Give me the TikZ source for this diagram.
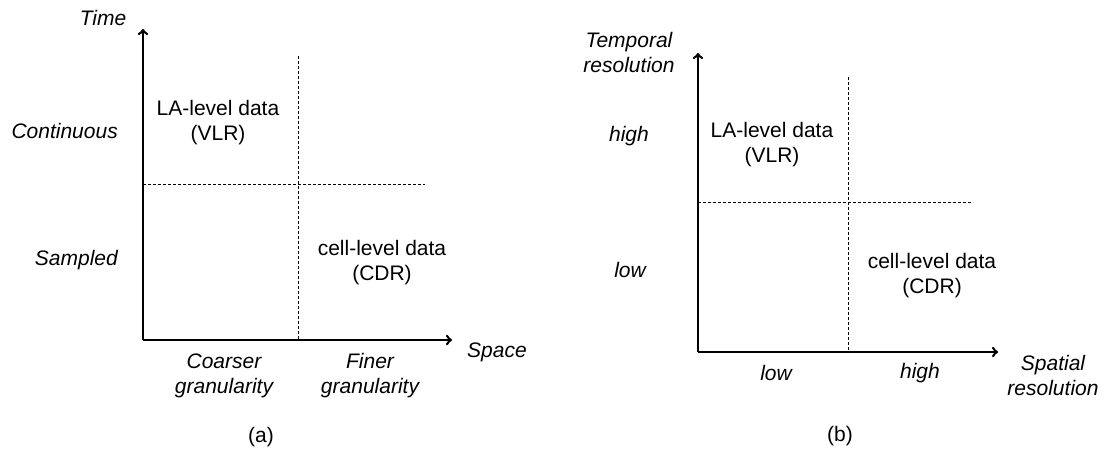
\documentclass[tikz,border=0pt]{standalone}
\usepackage{fontspec}
\setmainfont{Liberation Sans}
\usetikzlibrary{positioning}
\tikzset{axis/.style={line width=2.6pt, ->},
% thin dashed split lines
split/.style={line width=0.8pt, dash pattern=on 3pt off 2pt},
lab/.style={font=\fontsize{21}{25}\selectfont\itshape, align=center, inner sep=0pt},
txt/.style={font=\fontsize{21}{25}\selectfont, align=center, inner sep=0pt}}

\begin{document}
\begin{tikzpicture}[x=1pt,y=-1pt]
\useasboundingbox (0,0) rectangle (1105,451);
% (a) granularity
\coordinate (oa) at (143,340);
\coordinate (ya) at (143,29);
\coordinate (xa) at (452,340);
\coordinate (va) at (298,56);
\coordinate (vb) at (298,340);
\coordinate (ha) at (143,184);
\coordinate (hb) at (425,184);
\draw [split](va)--(vb);
\draw [split](ha)--(hb);
\draw [axis](oa)--(ya);
\draw [axis](oa)--(xa);

\node[lab] (time) at (103,18) {Time};
\node[lab] (space) at (497,352) {Space};
\node[lab,anchor=east] (cont) at (118,131) {Continuous};
\node[lab,anchor=east] (samp) at (118,260) {Sampled};
\node[lab] (coarse) at (224,376) {Coarser\\granularity};
\node[lab] (fine) at (370,376) {Finer\\granularity};
\node[txt] (vlra) at (218,123) {LA-level data\\(VLR)};
\node[txt] (cdra) at (382,263) {cell-level data\\(CDR)};
\node[txt] (capa) at (261,437) {(a)};

% (b) resolution
\coordinate (ob) at (698,352);
\coordinate (yb) at (698,53);
\coordinate (xb) at (998,352);
\coordinate (vc) at (848,77);
\coordinate (vd) at (848,352);
\coordinate (hc) at (698,202);
\coordinate (hd) at (973,202);
\draw [split](vc)--(vd);
\draw [split](hc)--(hd);
\draw [axis](ob)--(yb);
\draw [axis](ob)--(xb);

\node[lab] (tres) at (629,52) {Temporal\\resolution};
\node[lab] (sres) at (1053,375) {Spatial\\resolution};
\node[lab] (thigh) at (629,136) {high};
\node[lab] (tlow) at (630,270) {low};
\node[lab] (slow) at (776,373) {low};
\node[lab] (shigh) at (920,373) {high};
\node[txt] (vlrb) at (772,145) {LA-level data\\(VLR)};
\node[txt] (cdrb) at (932,276) {cell-level data\\(CDR)};
\node[txt] (capb) at (840,436) {(b)};
\end{tikzpicture}
\end{document}
